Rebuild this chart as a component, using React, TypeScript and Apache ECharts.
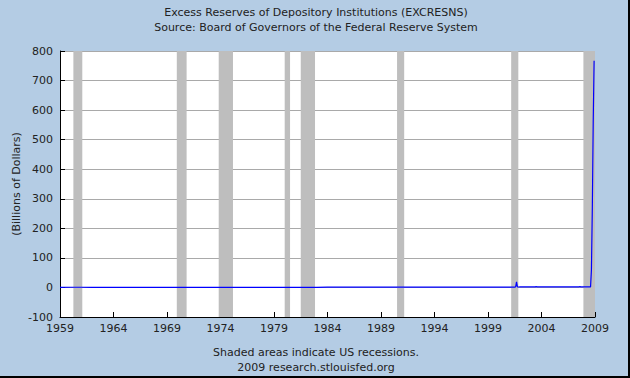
import React, { useEffect, useRef } from "react";
import * as echarts from "echarts";

const titleLines = [
  "Excess Reserves of Depository Institutions (EXCRESNS)",
  "Source: Board of Governors of the Federal Reserve System",
];
const footLines = ["Shaded areas indicate US recessions.", "2009 research.stlouisfed.org"];
const yAxisName = "(Billions of Dollars)";

// monthly observations (YYYY-MM) and excess reserves in billions of dollars
const dates = [
  "1959-01", "1960-01", "1961-01", "1962-01", "1963-01", "1964-01", "1965-01", "1966-01",
  "1967-01", "1968-01", "1969-01", "1970-01", "1971-01", "1972-01", "1973-01", "1974-01",
  "1975-01", "1976-01", "1977-01", "1978-01", "1979-01", "1980-01", "1981-01", "1982-01",
  "1983-01", "1984-01", "1985-01", "1986-01", "1987-01", "1988-01", "1989-01", "1990-01",
  "1991-01", "1992-01", "1993-01", "1994-01", "1995-01", "1996-01", "1997-01", "1998-01",
  "1999-01", "2000-01", "2001-01", "2001-07", "2001-08", "2001-09", "2001-10", "2001-11",
  "2002-01", "2003-01", "2003-06", "2003-07", "2003-08", "2004-01", "2005-01", "2006-01",
  "2007-01", "2007-07", "2007-08", "2007-09", "2008-01", "2008-07", "2008-08", "2008-09",
  "2008-10", "2008-11", "2008-12",
];
const values = [
  0.5, 0.6, 0.6, 0.4, 0.4, 0.4, 0.4, 0.4,
  0.4, 0.4, 0.3, 0.2, 0.2, 0.2, 0.2, 0.3,
  0.3, 0.3, 0.2, 0.3, 0.3, 0.5, 0.5, 0.5,
  0.5, 0.8, 0.9, 1.0, 1.0, 1.0, 0.9, 1.0,
  1.1, 1.1, 1.1, 1.2, 1.1, 1.1, 1.2, 1.4,
  1.4, 1.5, 1.4, 1.3, 1.6, 19.0, 1.7, 1.5,
  1.6, 1.7, 1.7, 3.5, 1.7, 1.7, 1.8, 1.8,
  1.8, 1.7, 3.2, 1.8, 1.8, 1.9, 2.0, 59.5,
  267.0, 559.0, 767.0,
];

const recessionStarts = ["1960-04", "1969-12", "1973-11", "1980-01", "1981-07", "1990-07", "2001-03", "2007-12"];
const recessionEnds = ["1961-02", "1970-11", "1975-03", "1980-07", "1982-11", "1991-03", "2001-11", "2009-01"];

const xMin = 1959;
const xMax = 2009;
const xInterval = 5;
const yMin = -100;
const yMax = 800;
const yInterval = 100;

const toYear = (s: string) => {
  const [y, m] = s.split("-").map(Number);
  return y + (m - 1) / 12;
};

const FONT = "DejaVu Sans";

export default function App() {
  const ref = useRef<HTMLDivElement>(null);
  useEffect(() => {
    if (!ref.current) return;
    const chart = echarts.init(ref.current, null, { renderer: "svg" });
    const seriesData = dates.map((d, i) => [toYear(d), values[i]]);
    const areas = recessionStarts.map((s, i) => [
      { xAxis: toYear(s) },
      { xAxis: Math.min(toYear(recessionEnds[i]), xMax) },
    ]);
    chart.setOption({
      animation: false,
      backgroundColor: "#b4cce4",
      textStyle: { fontFamily: FONT },
      grid: {
        left: 60, top: 51, right: 35, bottom: 61, containLabel: false,
        show: true, backgroundColor: "#ffffff", borderWidth: 0,
      },
      xAxis: {
        type: "value",
        min: xMin,
        max: xMax,
        interval: xInterval,
        axisLine: { show: true, onZero: false, lineStyle: { color: "#000", width: 1 } },
        axisTick: { show: true, inside: true, length: 5, lineStyle: { color: "#000" } },
        axisLabel: { color: "#222", fontSize: 11, fontFamily: FONT, margin: 6, formatter: (v: number) => String(v) },
        splitLine: { show: false },
      },
      yAxis: {
        type: "value",
        min: yMin,
        max: yMax,
        interval: yInterval,
        axisLine: { show: true, onZero: false, lineStyle: { color: "#000", width: 1 } },
        axisTick: { show: true, inside: true, length: 5, lineStyle: { color: "#000" } },
        axisLabel: { color: "#222", fontSize: 11, fontFamily: FONT, margin: 7 },
        splitLine: { show: true, lineStyle: { color: "#a9a9a9", width: 1 } },
      },
      series: [
        {
          type: "line",
          data: seriesData,
          showSymbol: false,
          lineStyle: { color: "#0000ff", width: 1.2 },
          z: 5,
          markArea: {
            silent: true,
            itemStyle: { color: "#bebebe", opacity: 1 },
            data: areas,
          },
        },
      ],
      graphic: [
        {
          type: "text",
          x: 316,
          y: 12,
          style: { text: titleLines[0], fill: "#222", font: `11px '${FONT}'`, textAlign: "center", textVerticalAlign: "middle" },
        },
        {
          type: "text",
          x: 316,
          y: 27,
          style: { text: titleLines[1], fill: "#222", font: `11px '${FONT}'`, textAlign: "center", textVerticalAlign: "middle" },
        },
        {
          type: "text",
          x: 316,
          y: 352,
          style: { text: footLines[0], fill: "#222", font: `11px '${FONT}'`, textAlign: "center", textVerticalAlign: "middle" },
        },
        {
          type: "text",
          x: 316,
          y: 367,
          style: { text: footLines[1], fill: "#222", font: `11px '${FONT}'`, textAlign: "center", textVerticalAlign: "middle" },
        },
        {
          type: "text",
          x: 16,
          y: 184,
          rotation: Math.PI / 2,
          style: { text: yAxisName, fill: "#222", font: `11px '${FONT}'`, textAlign: "center", textVerticalAlign: "middle" },
        },
        {
          type: "line",
          shape: { x1: 629, y1: 0, x2: 629, y2: 378 },
          style: { stroke: "#000", lineWidth: 2 },
        },
        {
          type: "line",
          shape: { x1: 0, y1: 377, x2: 630, y2: 377 },
          style: { stroke: "#000", lineWidth: 2 },
        },
      ],
    });
    return () => chart.dispose();
  }, []);
  return <div ref={ref} style={{ position: "fixed", left: 0, top: 0, width: 630, height: 378 }} />;
}
